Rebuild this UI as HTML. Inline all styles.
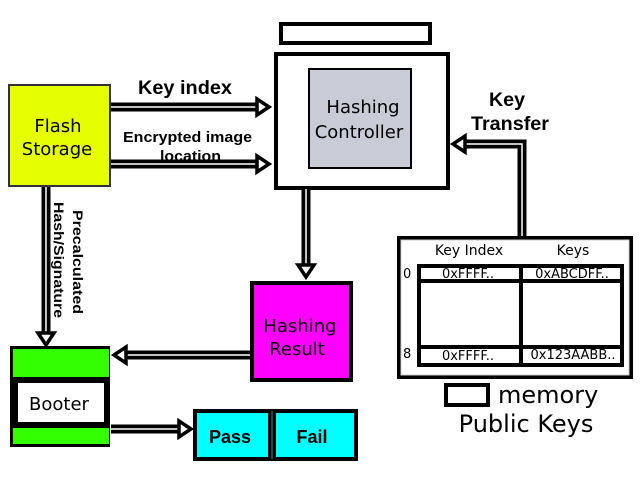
<!DOCTYPE html>
<html><head><style>body{margin:0;background:#fff}svg{display:block}.b{font-family:"Liberation Sans",Arial,sans-serif;font-weight:bold}.d{font-family:"DejaVu Sans",sans-serif}</style></head><body>
<svg width="640" height="480" xmlns="http://www.w3.org/2000/svg">
<defs>
<g id="ah"><path d="M0,-8 L12,0 L0,8 Z" fill="#fff" stroke="#000" stroke-width="3.5" stroke-linejoin="miter"/></g>
</defs>
<rect x="281" y="24" width="149" height="19" fill="#fff" stroke="#000" stroke-width="4"/>
<rect x="276" y="54" width="172" height="134" fill="#fff" stroke="#000" stroke-width="4"/>
<rect x="309" y="69" width="102" height="99" fill="#c8ccd6" stroke="#000" stroke-width="2"/>
<text x="363" y="113" font-size="18" text-anchor="middle" class="d">Hashing</text>
<text x="359" y="138" font-size="18" text-anchor="middle" class="d">Controller</text>
<rect x="9" y="85" width="101" height="101" fill="#e6ff00" stroke="#333" stroke-width="2"/>
<text x="58" y="132" font-size="18" text-anchor="middle" class="d">Flash</text>
<text x="57" y="155" font-size="18" text-anchor="middle" class="d">Storage</text>
<g stroke-linecap="butt">
<line x1="111" y1="107" x2="258" y2="107" stroke="#000" stroke-width="9"/>
<line x1="111" y1="107" x2="258" y2="107" stroke="#fff" stroke-width="1.5"/>
<use href="#ah" x="257" y="107"/>
<line x1="111" y1="164" x2="258" y2="164" stroke="#000" stroke-width="9"/>
<line x1="111" y1="164" x2="258" y2="164" stroke="#fff" stroke-width="1.5"/>
<use href="#ah" x="257" y="164"/>
<polyline points="522,236 522,144 466,144" fill="none" stroke="#000" stroke-width="9"/>
<polyline points="522,236 522,144 466,144" fill="none" stroke="#fff" stroke-width="1.5"/>
<use href="#ah" transform="translate(465,144) rotate(180)"/>
<line x1="306" y1="189" x2="306" y2="266" stroke="#000" stroke-width="9"/>
<line x1="306" y1="189" x2="306" y2="266" stroke="#fff" stroke-width="1.5"/>
<use href="#ah" transform="translate(306,265) rotate(90)"/>
<line x1="46" y1="187" x2="46" y2="334" stroke="#000" stroke-width="9"/>
<line x1="46" y1="187" x2="46" y2="334" stroke="#fff" stroke-width="1.5"/>
<use href="#ah" transform="translate(46,333) rotate(90)"/>
<line x1="250" y1="355" x2="127" y2="355" stroke="#000" stroke-width="9"/>
<line x1="250" y1="355" x2="127" y2="355" stroke="#fff" stroke-width="1.5"/>
<use href="#ah" transform="translate(126,355) rotate(180)"/>
<line x1="111" y1="429" x2="180" y2="429" stroke="#000" stroke-width="9"/>
<line x1="111" y1="429" x2="180" y2="429" stroke="#fff" stroke-width="1.5"/>
<use href="#ah" x="179" y="429"/>
</g>
<text x="138" y="94" font-size="19" class="b" textLength="94" lengthAdjust="spacingAndGlyphs">Key index</text>
<text x="123" y="142" font-size="15" class="b" textLength="129" lengthAdjust="spacingAndGlyphs">Encrypted image</text>
<text x="160" y="161" font-size="15" class="b" textLength="61" lengthAdjust="spacingAndGlyphs">location</text>
<text x="489" y="106" font-size="19" class="b" textLength="36" lengthAdjust="spacingAndGlyphs">Key</text>
<text x="471" y="130" font-size="19" class="b" textLength="78" lengthAdjust="spacingAndGlyphs">Transfer</text>
<text transform="translate(73,210) rotate(90)" font-size="14" class="b" textLength="104" lengthAdjust="spacingAndGlyphs">Precalculated</text>
<text transform="translate(54,202) rotate(90)" font-size="14" class="b" textLength="116" lengthAdjust="spacingAndGlyphs">Hash/Signature</text>
<rect x="252" y="283" width="99" height="97" fill="#ff00ff" stroke="#000" stroke-width="4"/>
<text x="300" y="332" font-size="18" text-anchor="middle" class="d">Hashing</text>
<text x="297" y="355" font-size="18" text-anchor="middle" class="d">Result</text>
<rect x="10" y="346" width="100" height="101" fill="#000"/>
<rect x="13" y="349" width="96" height="28" fill="#33ff00"/>
<rect x="13" y="428" width="96" height="16" fill="#33ff00"/>
<rect x="18" y="383" width="86" height="39" fill="#fff"/>
<text x="59" y="410" font-size="18" text-anchor="middle" class="d">Booter</text>
<rect x="195" y="411" width="161" height="48" fill="#00ffff" stroke="#000" stroke-width="4"/>
<rect x="268" y="411" width="8" height="48" fill="#000"/>
<rect x="271" y="411" width="2" height="48" fill="#0a5050"/>
<text x="230" y="443" font-size="18" class="b" text-anchor="middle">Pass</text>
<text x="312" y="443" font-size="18" class="b" text-anchor="middle">Fail</text>
<rect x="397" y="236" width="236" height="143" fill="#000"/>
<rect x="401" y="240" width="228" height="135" fill="#fff" stroke="#ccc" stroke-width="1"/>
<text x="469" y="255" font-size="14" text-anchor="middle" class="d">Key Index</text>
<text x="573" y="255" font-size="14" text-anchor="middle" class="d">Keys</text>
<rect x="419" y="266" width="102" height="99" fill="none" stroke="#000" stroke-width="4"/>
<rect x="521" y="266" width="101" height="99" fill="none" stroke="#000" stroke-width="4"/>
<line x1="419" y1="281" x2="622" y2="281" stroke="#000" stroke-width="4"/>
<line x1="419" y1="347" x2="622" y2="347" stroke="#000" stroke-width="4"/>
<text x="403" y="278" font-size="13" class="d">0</text>
<text x="403" y="358" font-size="13" class="d">8</text>
<text x="468" y="278" font-size="13" text-anchor="middle" class="d">0xFFFF..</text>
<text x="572" y="278" font-size="13" text-anchor="middle" class="d">0xABCDFF..</text>
<text x="468" y="360" font-size="13" text-anchor="middle" class="d">0xFFFF..</text>
<text x="573" y="359" font-size="13" text-anchor="middle" class="d">0x123AABB..</text>
<rect x="446" y="385" width="42" height="20" fill="#fff" stroke="#000" stroke-width="4"/>
<text x="498" y="403" font-size="24" class="d">memory</text>
<text x="526" y="432" font-size="24" text-anchor="middle" class="d">Public Keys</text>
</svg>
</body></html>
